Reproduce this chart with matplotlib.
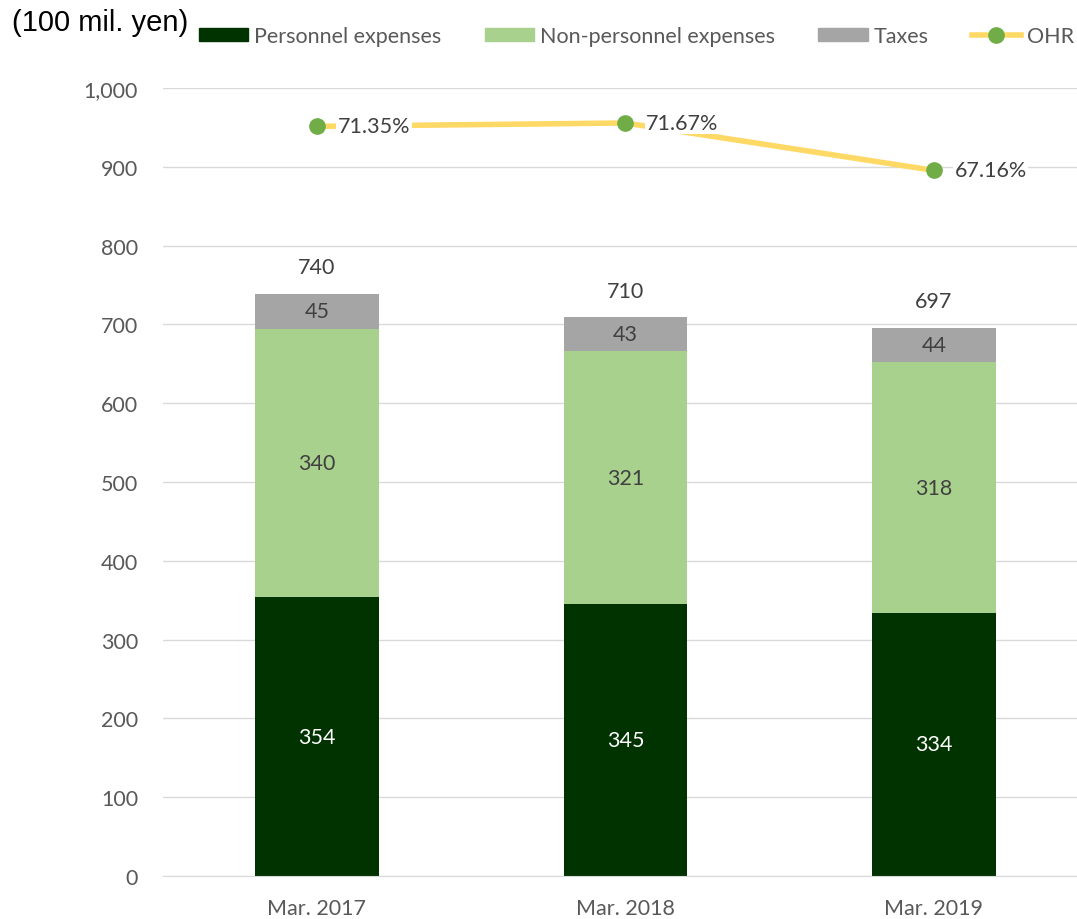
import matplotlib.pyplot as plt
from matplotlib.lines import Line2D
from matplotlib.patches import Patch

# dados
anos = ["Mar. 2017", "Mar. 2018", "Mar. 2019"]
pessoal = [354, 345, 334]
nao_pessoal = [340, 321, 318]
impostos = [45, 43, 44]
totais = [740, 710, 697]
ohr = [71.35, 71.67, 67.16]

cor_pessoal = "#003300"
cor_nao_pessoal = "#A9D18E"
cor_impostos = "#A5A5A5"
cor_linha = "#FFD966"
cor_ponto = "#70AD47"
cor_texto = "#595959"

plt.rcParams["font.family"] = ["Lato", "DejaVu Sans"]
fs = 15.5

fig = plt.figure(figsize=(10.77, 9.2), dpi=100)
ax = fig.add_axes([163 / 1077, 1 - 877 / 920, 914 / 1077, 788 / 920])

x = list(range(len(anos)))
largura = 0.4
base2 = pessoal
base3 = [a + b for a, b in zip(pessoal, nao_pessoal)]

ax.bar(x, pessoal, largura, color=cor_pessoal, zorder=2)
ax.bar(x, nao_pessoal, largura, bottom=base2, color=cor_nao_pessoal, zorder=2)
ax.bar(x, impostos, largura, bottom=base3, color=cor_impostos, zorder=2)

for i in x:
    ax.text(i, pessoal[i] / 2, str(pessoal[i]), ha="center", va="center",
            color="white", fontsize=fs)
    ax.text(i, base2[i] + nao_pessoal[i] / 2, str(nao_pessoal[i]), ha="center",
            va="center", color="#404040", fontsize=fs)
    ax.text(i, base3[i] + impostos[i] / 2, str(impostos[i]), ha="center",
            va="center", color="#404040", fontsize=fs)
    ax.annotate(str(totais[i]), (i, base3[i] + impostos[i]), xytext=(0, 19),
                textcoords="offset points", ha="center", va="center",
                color="#404040", fontsize=fs)

ax.set_ylim(0, 1000)
ax.set_xlim(-0.499, 2.464)
ax.set_yticks(range(0, 1001, 100))
ax.set_yticklabels([f"{v:,}" for v in range(0, 1001, 100)])
ax.set_xticks(x)
ax.set_xticklabels(anos)
ax.tick_params(axis="both", length=0, labelsize=fs, colors=cor_texto)
ax.tick_params(axis="y", pad=18)
ax.tick_params(axis="x", pad=16)
ax.grid(axis="y", color="#D9D9D9", linewidth=1, zorder=0)
for lado in ["top", "right", "left"]:
    ax.spines[lado].set_visible(False)
ax.spines["bottom"].set_color("#D9D9D9")

# eixo secundário para o OHR (escondido)
ax2 = ax.twinx()
ax2.set_ylim(0, 75)
ax2.axis("off")
ax2.plot(x, ohr, color=cor_linha, linewidth=4, marker="o", markersize=11,
         markerfacecolor=cor_ponto, markeredgecolor=cor_ponto, zorder=3)
for i in x:
    ax2.annotate(f"{ohr[i]:.2f}%", (x[i], ohr[i]), xytext=(15, 0),
                 textcoords="offset points", ha="left", va="center",
                 color="#404040", fontsize=fs, zorder=4,
                 bbox=dict(facecolor="white", edgecolor="none", pad=1))

fig.text(0.011, 0.975, "(100 mil. yen)", fontsize=21, family="Liberation Sans",
         va="center", ha="left", color="black")

itens = [
    Patch(color=cor_pessoal, label="Personnel expenses"),
    Patch(color=cor_nao_pessoal, label="Non-personnel expenses"),
    Patch(color=cor_impostos, label="Taxes"),
    Line2D([0], [0], color=cor_linha, linewidth=4, marker="o", markersize=11,
           markerfacecolor=cor_ponto, markeredgecolor=cor_ponto, label="OHR"),
]
leg = fig.legend(handles=itens, loc="center", bbox_to_anchor=(0.591, 0.96),
                 ncol=4, frameon=False, fontsize=fs, handlelength=2.3,
                 handleheight=0.55, handletextpad=0.28, columnspacing=2.0)
for t in leg.get_texts():
    t.set_color(cor_texto)

plt.savefig("out.png", dpi=100)
plt.close()
